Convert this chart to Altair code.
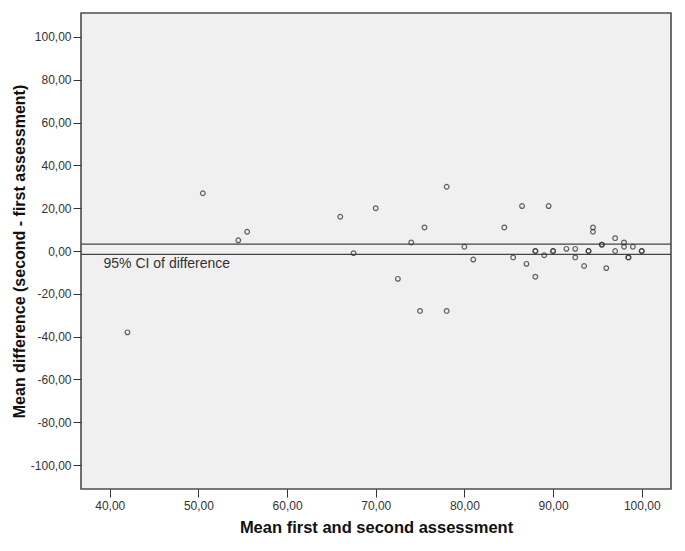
import altair as alt
import pandas as pd

# Bland-Altman style data: mean of two assessments vs difference
mean_vals = [42, 50.5, 54.5, 55.5, 66, 67.5, 70, 72.5, 74, 75, 75.5, 78, 78,
             80, 81, 84.5, 85.5, 86.5, 87, 88, 88, 88, 89, 89.5, 90, 90,
             91.5, 92.5, 92.5, 93.5, 94, 94, 94.5, 94.5, 95.5, 95.5, 96,
             97, 97, 98, 98, 98.5, 98.5, 99, 100, 100]
diff_vals = [-38, 27, 5, 9, 16, -1, 20, -13, 4, -28, 11, 30, -28,
             2, -4, 11, -3, 21, -6, 0, 0, -12, -2, 21, 0, 0,
             1, 1, -3, -7, 0, 0, 11, 9, 3, 3, -8,
             6, 0, 4, 2, -3, -3, 2, 0, 0]

ci_bounds = [3.2, -1.6]
ci_label = ["95% CI of difference"]

x_ticks = [40, 50, 60, 70, 80, 90, 100]
y_ticks = [-100, -80, -60, -40, -20, 0, 20, 40, 60, 80, 100]

pts = pd.DataFrame({"mean": mean_vals, "diff": diff_vals})
ci = pd.DataFrame({"ci": ci_bounds})
lab = pd.DataFrame({"x": [39.3], "y": [min(ci_bounds)], "t": ci_label})

FONT = "Liberation Sans"
fmt = "replace(replace(format(datum.value, '.2f'), '.', ','), '\u2212', '-')"

xscale = alt.Scale(domain=[36.76, 103.3], nice=False, zero=False)
yscale = alt.Scale(domain=[-111.2, 111.2], nice=False, zero=False)

xaxis = alt.Axis(values=x_ticks, labelExpr=fmt, title="Mean first and second assessment",
                 grid=False, domain=False, tickSize=8, tickColor="#333", labelColor="#333",
                 labelFont=FONT, labelFontSize=12, labelPadding=3,
                 titleFont=FONT, titleFontSize=16.5, titleFontWeight="bold", titleColor="#111",
                 titlePadding=8)
yaxis = alt.Axis(values=y_ticks, labelExpr=fmt, title="Mean difference (second - first assessment)",
                 grid=False, domain=False, tickSize=8, tickColor="#333", labelColor="#333",
                 labelFont=FONT, labelFontSize=12, labelPadding=2,
                 titleFont=FONT, titleFontSize=16, titleFontWeight="bold", titleColor="#111",
                 titlePadding=3)

points = alt.Chart(pts).mark_point(filled=False, size=22, strokeWidth=1.2, color="#333", opacity=0.75).encode(
    x=alt.X("mean:Q", scale=xscale, axis=xaxis),
    y=alt.Y("diff:Q", scale=yscale, axis=yaxis),
)

rules = alt.Chart(ci).mark_rule(color="#444", strokeWidth=1.3).encode(
    y=alt.Y("ci:Q", scale=yscale),
)

text = alt.Chart(lab).mark_text(align="left", baseline="top", dy=3, font=FONT, fontSize=14, color="#333").encode(
    x=alt.X("x:Q", scale=xscale),
    y=alt.Y("y:Q", scale=yscale),
    text="t:N",
)

chart = alt.layer(rules, points, text).properties(
    width=590, height=476,
    autosize=alt.AutoSizeParams(type="none"),
    padding={"left": 73, "top": 5, "right": 5, "bottom": 54},
    background="white",
).configure_view(
    fill="#f0f0f0", stroke="#4d4d4d", strokeWidth=1.6
)

chart.save("out.html", embed_options={"renderer": "svg", "actions": False})
